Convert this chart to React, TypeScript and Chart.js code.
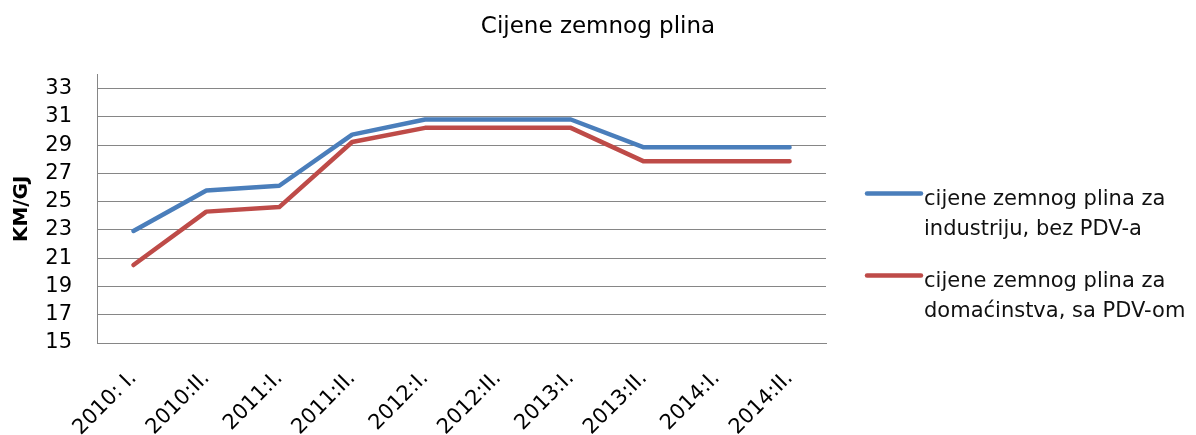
import React, { useEffect, useRef } from "react";
import { Chart, registerables } from "chart.js";

Chart.register(...registerables);

const categories = ["2010: I.", "2010:II.", "2011:I.", "2011:II.", "2012:I.", "2012:II.", "2013:I.", "2013:II.", "2014:I.", "2014:II."];
const industryPrices = [22.93, 25.8, 26.13, 29.75, 30.82, 30.82, 30.82, 28.85, 28.85, 28.85];
const householdPrices = [20.52, 24.3, 24.62, 29.23, 30.23, 30.23, 30.23, 27.86, 27.86, 27.86];
const seriesNames = [
  "cijene zemnog plina za industriju, bez PDV-a",
  "cijene zemnog plina za domaćinstva, sa PDV-om",
];
const legendLines = [
  ["cijene zemnog plina za", "industriju, bez PDV-a"],
  ["cijene zemnog plina za", "domaćinstva, sa PDV-om"],
];
const yTickValues = [15, 17, 19, 21, 23, 25, 27, 29, 31, 33];
const titleText = "Cijene zemnog plina";
const yAxisTitle = "KM/GJ";

const FONT = '"DejaVu Sans", sans-serif';
const BLUE = "#4A7EBB";
const RED = "#BE4B48";
const GRID = "#868686";
const TEXT = "#000000";
const seriesColors = [BLUE, RED];

const sideLegend = {
  id: "sideLegend",
  afterDraw(chart: any) {
    const ctx = chart.ctx;
    const a = chart.chartArea;
    ctx.save();
    ctx.font = `21px ${FONT}`;
    ctx.textAlign = "left";
    ctx.textBaseline = "alphabetic";
    legendLines.forEach((lines, i) => {
      const y0 = a.top + 119 + i * 82;
      ctx.strokeStyle = seriesColors[i];
      ctx.lineWidth = 4.5;
      ctx.lineCap = "round";
      ctx.beginPath();
      ctx.moveTo(a.right + 41, y0);
      ctx.lineTo(a.right + 95, y0);
      ctx.stroke();
      ctx.fillStyle = "#111111";
      lines.forEach((t, j) => {
        ctx.fillText(t, a.right + 98, y0 + 11 + j * 30);
      });
    });
    ctx.restore();
  },
};

export default function App() {
  const ref = useRef<HTMLCanvasElement | null>(null);
  useEffect(() => {
    if (!ref.current) return;
    const chart = new Chart(ref.current, {
      type: "line",
      data: {
        labels: categories,
        datasets: [
          {
            label: seriesNames[0],
            data: industryPrices,
            borderColor: BLUE,
            backgroundColor: BLUE,
            borderWidth: 4.5,
            pointRadius: 0,
            tension: 0,
            fill: false,
            borderCapStyle: "round",
            borderJoinStyle: "round",
          },
          {
            label: seriesNames[1],
            data: householdPrices,
            borderColor: RED,
            backgroundColor: RED,
            borderWidth: 4.5,
            pointRadius: 0,
            tension: 0,
            fill: false,
            borderCapStyle: "round",
            borderJoinStyle: "round",
          },
        ],
      },
      options: {
        responsive: false,
        animation: false,
        layout: { padding: { left: 0, right: 0, top: 0, bottom: 0 } },
        plugins: {
          legend: { display: false },
          tooltip: { enabled: false },
          title: {
            display: true,
            text: titleText,
            color: TEXT,
            font: { family: FONT, size: 23, weight: "normal", lineHeight: 1.2 },
            padding: { top: 13, bottom: 34 },
          },
        },
        scales: {
          x: {
            offset: true,
            grid: { display: false, drawTicks: false },
            border: { display: true, color: GRID, width: 1 },
            ticks: {
              color: TEXT,
              font: { family: FONT, size: 21 },
              maxRotation: 45,
              minRotation: 45,
              autoSkip: false,
              padding: 23,
            },
            afterFit: (scale: any) => {
              scale.height = 92;
            },
          },
          y: {
            min: 15,
            max: 34,
            afterBuildTicks: (scale: any) => {
              scale.ticks = yTickValues.map((v) => ({ value: v }));
            },
            afterFit: (scale: any) => {
              scale.width = 97;
            },
            grid: { color: GRID, lineWidth: 1, drawTicks: false },
            border: { display: true, color: GRID, width: 1 },
            ticks: {
              color: TEXT,
              font: { family: FONT, size: 21 },
              padding: 25,
            },
            title: {
              display: true,
              text: yAxisTitle,
              color: TEXT,
              font: { family: FONT, size: 20, weight: "bold", lineHeight: 1.2 },
              padding: { top: 10, bottom: 11 },
            },
          },
          legendSpace: {
            type: "linear",
            position: "right",
            display: true,
            grid: { display: false, drawTicks: false },
            border: { display: false },
            ticks: { display: false },
            afterFit: (scale: any) => {
              scale.width = 370;
            },
          },
        },
      },
      plugins: [sideLegend],
    });
    return () => chart.destroy();
  }, []);
  return (
    <div style={{ position: "absolute", left: 0, top: 0, width: 1196, height: 435 }}>
      <canvas ref={ref} width={1196} height={435} style={{ display: "block" }} />
    </div>
  );
}
